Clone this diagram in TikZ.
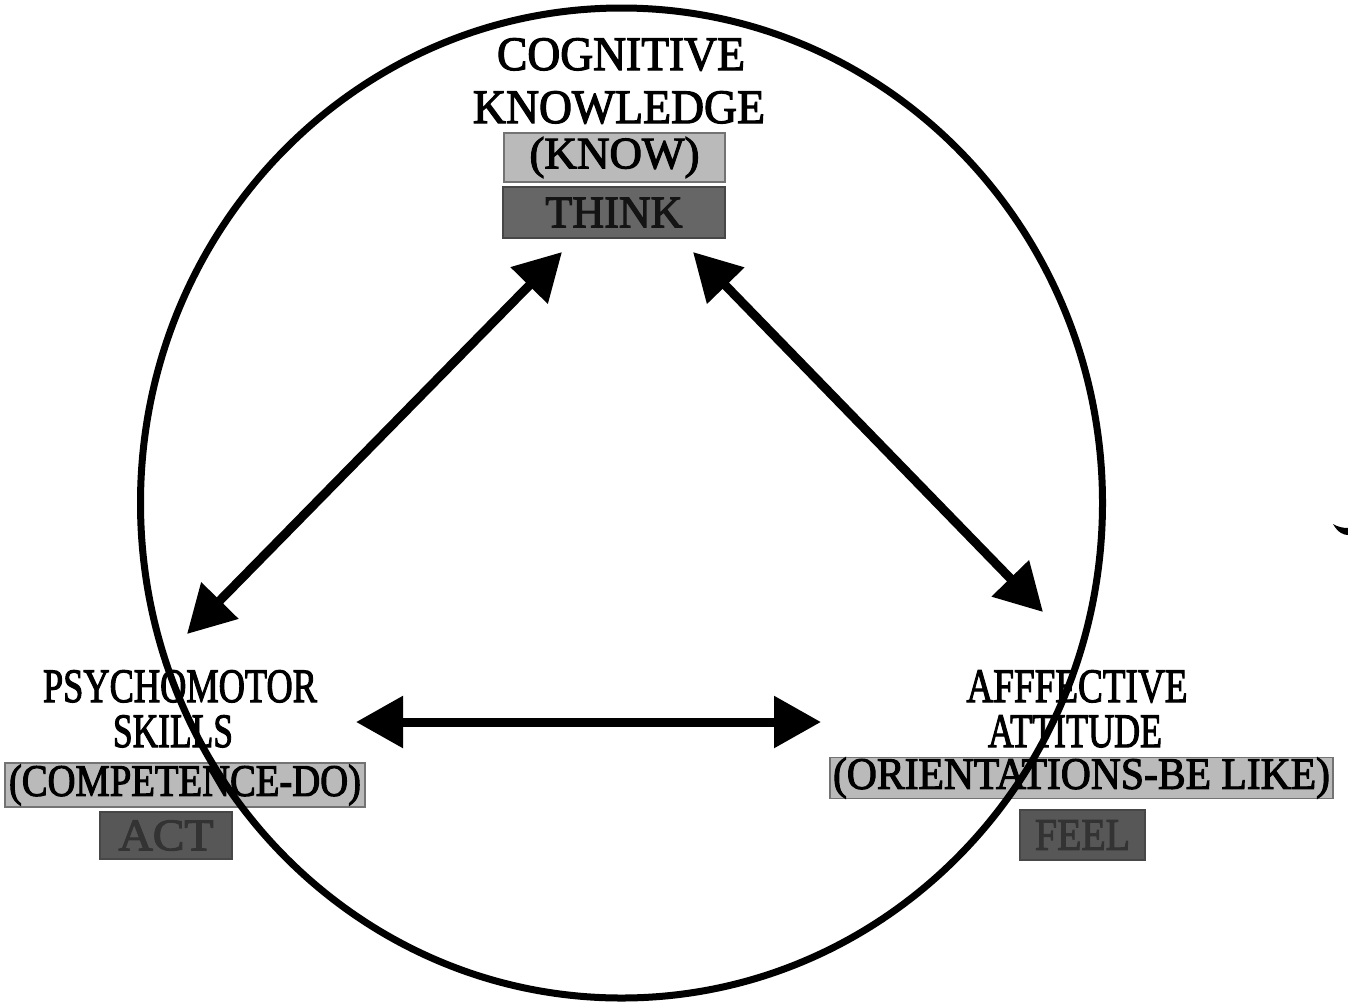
\documentclass[tikz,border=0pt]{standalone}
\usepackage{fontspec}
\setmainfont[FakeBold=2.5]{Liberation Serif}
\usepackage{graphicx}
\usetikzlibrary{arrows.meta}
\newcommand{\fw}[2]{\resizebox{#1pt}{\height}{#2}}
\begin{document}
\begin{tikzpicture}[x=1pt,y=-1pt,
  lbl/.style={anchor=base,inner sep=0pt,font=\fontsize{48}{48}\selectfont},
  lightbox/.style={draw=black!55,line width=1.5pt,fill=black!27,inner sep=0pt,font=\fontsize{45}{45}\selectfont},
  darkbox/.style={draw=black!72,line width=1.5pt,fill=black!60,inner sep=0pt,text=black!92,font=\fontsize{45}{45}\selectfont},
  dimbox/.style={darkbox,fill=black!66,text=black!80},
  link/.style={line width=9pt,{Triangle[length=47pt,width=50pt]}-{Triangle[length=47pt,width=50pt]}},
  ring/.style={line width=7pt}]
\useasboundingbox[fill=white] (0,0) rectangle (1348,1002);

% top
\node[lbl] (cog) at (621,70) {\fw{248}{COGNITIVE}};
\node[lbl] (know) at (619,123) {\fw{292}{KNOWLEDGE}};
\node[lightbox,minimum width=221pt,minimum height=49pt] (knowbox) at (614.5,157.5) {\fw{170}{(KNOW)}};
\node[darkbox,minimum width=222pt,minimum height=51pt] (think) at (614,212.5) {\fw{137}{THINK}};

% left
\node[lbl] (psy) at (180,702) {\fw{274}{PSYCHOMOTOR}};
\node[lbl] (skills) at (173,747) {\fw{120}{SKILLS}};
\node[lightbox,minimum width=360pt,minimum height=44pt] (comp) at (185,785) {\fw{352}{(COMPETENCE-DO)}};
\node[dimbox,minimum width=132pt,minimum height=47pt] (act) at (166,835.5) {\fw{95}{ACT}};

% right
\node[lbl] (aff) at (1077,702) {\fw{221}{AFFFECTIVE}};
\node[lbl] (att) at (1075,747) {\fw{174}{ATTITUDE}};
\node[lightbox,minimum width=503pt,minimum height=40pt] (orient) at (1081.5,778) {\fw{497}{(ORIENTATIONS-BE LIKE)}};
\node[dimbox,minimum width=125pt,minimum height=50pt] (feel) at (1082.5,835) {\fw{95}{FEEL}};

% circle
\draw[ring] (621.5,503) ellipse [x radius=481pt, y radius=495pt];

% arrow ends
\coordinate (tL) at (562,252);
\coordinate (tR) at (693,252);
\coordinate (lU) at (187,634);
\coordinate (rU) at (1043,612);
\coordinate (lH) at (356,722);
\coordinate (rH) at (821,722);

\draw[link] (lU) -- (tL);
\draw[link] (tR) -- (rU);
\draw[link] (lH) -- (rH);

% stray mark at right edge
\fill (1333,524) .. controls (1338,533) and (1344,535) .. (1348,535) -- (1348,528) .. controls (1343,528) and (1338,527) .. (1333,524) -- cycle;
\end{tikzpicture}
\end{document}
